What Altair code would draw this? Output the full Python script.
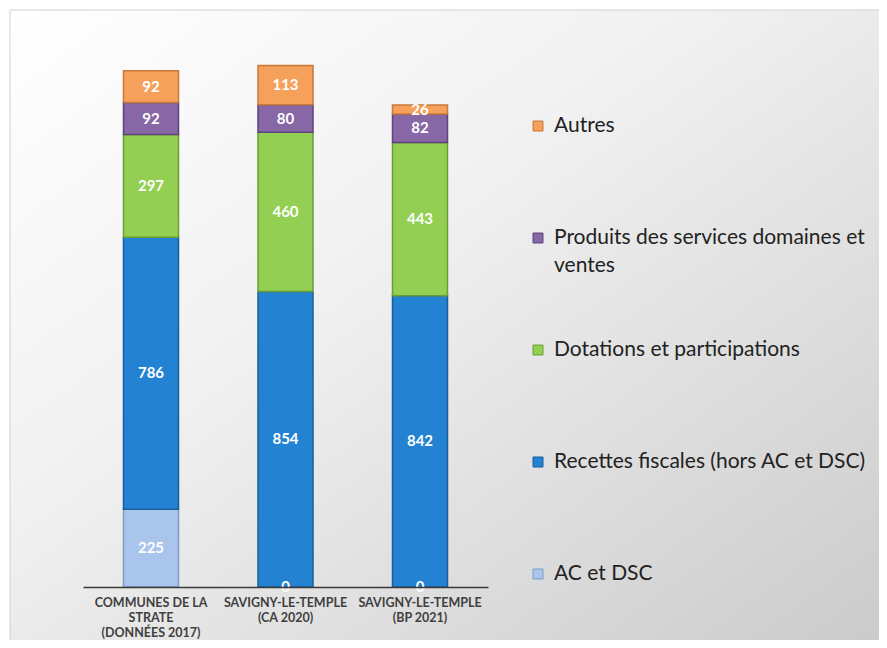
import altair as alt
import pandas as pd

# ---------------- data ----------------
CATEGORIES = [
    "COMMUNES DE LA STRATE (DONNÉES 2017)",
    "SAVIGNY-LE-TEMPLE (CA 2020)",
    "SAVIGNY-LE-TEMPLE (BP 2021)",
]
TICK_LINES = [
    ["COMMUNES DE LA", "STRATE", "(DONNÉES 2017)"],
    ["SAVIGNY-LE-TEMPLE", "(CA 2020)"],
    ["SAVIGNY-LE-TEMPLE", "(BP 2021)"],
]
# stacking order, bottom to top
SERIES = [
    "AC et DSC",
    "Recettes fiscales (hors AC et DSC)",
    "Dotations et participations",
    "Produits des services domaines et ventes",
    "Autres",
]
LEGEND_TEXT = [
    "AC et DSC",
    "Recettes fiscales (hors AC et DSC)",
    "Dotations et participations",
    "Produits des services domaines et\nventes",
    "Autres",
]
AC_DSC = [225, 0, 0]
RECETTES = [786, 854, 842]
DOTATIONS = [297, 460, 443]
PRODUITS = [92, 80, 82]
AUTRES = [92, 113, 26]

COLORS = ["#a9c5ec", "#2482d3", "#93cf52", "#8767a6", "#f5a15c"]
EDGES = ["#7d9bc6", "#185e9c", "#6a9d38", "#5d447e", "#c8793a"]

VALUES = [AC_DSC, RECETTES, DOTATIONS, PRODUITS, AUTRES]

rows = []
for s_i, (s, vals) in enumerate(zip(SERIES, VALUES)):
    for c, v in zip(CATEGORIES, vals):
        rows.append({"category": c, "series": s, "value": v, "order": s_i})
df = pd.DataFrame(rows)

legend_df = pd.DataFrame({"series": SERIES, "label": LEGEND_TEXT})

# axis label expression (multi-line tick labels)
label_expr = "''"
for c, lines in zip(reversed(CATEGORIES), reversed(TICK_LINES)):
    arr = "[" + ",".join("'" + l + "'" for l in lines) + "]"
    label_expr = f"datum.label == '{c}' ? {arr} : ({label_expr})"

# ---------------- scales ----------------
W, H = 869, 630
BASE_Y = 577
y_scale = alt.Scale(domain=[0, 1600], range=[BASE_Y, BASE_Y - 1600 * 0.346], nice=False, zero=True)
x_scale = alt.Scale(range=[73, 478], paddingInner=0.591, paddingOuter=0.301)
color_scale = alt.Scale(domain=SERIES, range=COLORS)
stroke_scale = alt.Scale(domain=SERIES, range=EDGES)

x_axis = alt.Axis(
    title=None,
    orient="bottom",
    offset=-(H - BASE_Y),
    labelExpr=label_expr,
    labelAngle=0,
    ticks=False,
    tickSize=0,
    grid=False,
    domain=True,
    domainColor="#3a3a3a",
    domainWidth=1.3,
    labelFont="Lato",
    labelFontWeight="bold",
    labelFontSize=12.5,
    labelColor="#404040",
    labelPadding=9,
    labelLineHeight=15,
    labelBaseline="top",
    labelLimit=300,
    labelOverlap=False,
    zindex=1,
)

background = (
    alt.Chart(alt.Data(values=[{}]))
    .mark_rect(
        fill=alt.Gradient(
            gradient="linear",
            x1=0, y1=0, x2=1, y2=1,
            stops=[
                alt.GradientStop(offset=0, color="#ffffff"),
                alt.GradientStop(offset=0.4, color="#f1f1f1"),
                alt.GradientStop(offset=1, color="#cbcbcb"),
            ],
        ),
    )
    .encode(x=alt.value(0), x2=alt.value("width"), y=alt.value(0), y2=alt.value("height"))
)

edge_top = (
    alt.Chart(alt.Data(values=[{}]))
    .mark_rule(color="#d2d2d2", strokeWidth=1)
    .encode(x=alt.value(0), x2=alt.value("width"), y=alt.value(0))
)
edge_left = (
    alt.Chart(alt.Data(values=[{}]))
    .mark_rule(color="#d2d2d2", strokeWidth=1)
    .encode(x=alt.value(0), y=alt.value(0), y2=alt.value("height"))
)

bars = (
    alt.Chart(df)
    .mark_bar(strokeWidth=1.5)
    .encode(
        x=alt.X("category:N", sort=CATEGORIES, scale=x_scale, axis=x_axis),
        y=alt.Y("value:Q", stack="zero", scale=y_scale, axis=None),
        color=alt.Color("series:N", scale=color_scale, legend=None),
        stroke=alt.Stroke("series:N", scale=stroke_scale, legend=None),
        order=alt.Order("order:Q", sort="ascending"),
    )
)

labels = (
    alt.Chart(df)
    .transform_stack(
        stack="value",
        groupby=["category"],
        sort=[alt.SortField("order", order="ascending")],
        as_=["y0", "y1"],
    )
    .transform_calculate(mid="(datum.y0 + datum.y1) / 2")
    .mark_text(font="Lato", fontWeight="bold", fontSize=15, color="#ffffff", baseline="middle")
    .encode(
        x=alt.X("category:N", sort=CATEGORIES, scale=x_scale, axis=x_axis),
        y=alt.Y("mid:Q", scale=y_scale, axis=None),
        text=alt.Text("value:Q"),
    )
)

legend_y = alt.Y(
    "series:N",
    sort=list(reversed(SERIES)),
    scale=alt.Scale(type="point", range=[116, 564], padding=0),
    axis=None,
)

legend_symbols = (
    alt.Chart(legend_df)
    .mark_square(size=100, strokeWidth=1, opacity=1)
    .encode(
        x=alt.value(528),
        y=legend_y,
        color=alt.Color("series:N", scale=color_scale, legend=None),
        stroke=alt.Stroke("series:N", scale=stroke_scale, legend=None),
    )
)

legend_text = (
    alt.Chart(legend_df)
    .mark_text(
        font="Lato",
        fontSize=21,
        color="#222222",
        align="left",
        baseline="top",
        dy=-11,
        lineBreak="\n",
        lineHeight=28,
    )
    .encode(x=alt.value(544), y=legend_y, text="label:N")
)

chart = (
    alt.layer(background, edge_top, edge_left, bars, labels, legend_symbols, legend_text)
    .resolve_scale(y="independent")
    .properties(
        width=W,
        height=H,
        padding={"left": 2, "top": 2, "right": 0, "bottom": 0},
        autosize=alt.AutoSizeParams(type="none"),
        background="#ffffff",
    )
    .configure_view(strokeWidth=0)
    .configure(font="Lato")
)

chart.save("out.html", embed_options={"renderer": "svg", "actions": False})
